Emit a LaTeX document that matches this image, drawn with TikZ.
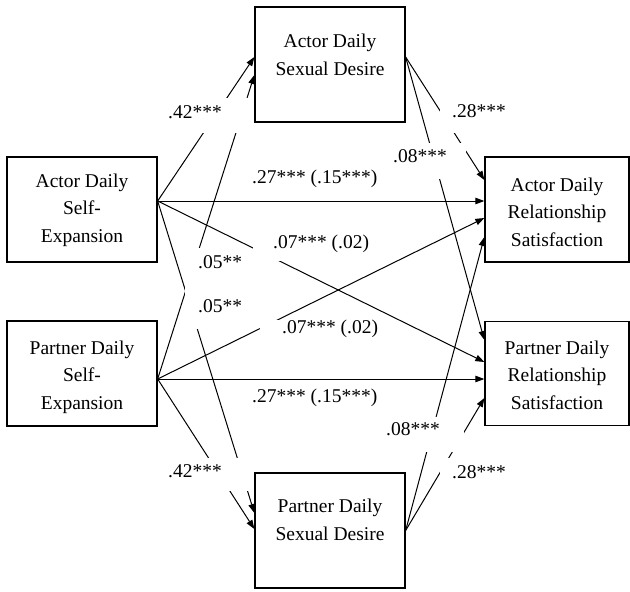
\documentclass[tikz,border=0pt]{standalone}
\usepackage{fontspec}
\setmainfont{Liberation Serif}
\usetikzlibrary{arrows.meta}
\begin{document}
\begin{tikzpicture}[x=1pt,y=-1pt,
  box/.style={draw, line width=1.3pt, inner sep=0pt, minimum width=150pt},
  boxtext/.style={align=center, inner sep=0pt, font=\fontsize{19.5}{27.5}\selectfont},
  path/.style={line width=1pt, -{Triangle[length=9pt,width=6.5pt]}},
  gap/.style={fill=white, draw=none},
  lbl/.style={anchor=base west, inner sep=0pt, font=\fontsize{19.5}{24}\selectfont}]
\useasboundingbox (0,0) rectangle (630,592);

% boxes
\node[box, minimum height=105pt] (ase) at (82,209.5) {};
\node[box, minimum height=105pt] (pse) at (82,373.5) {};
\node[box, minimum height=115pt] (asd) at (330,64.5) {};
\node[box, minimum height=115pt] (psd) at (330,530.5) {};
\node[box, minimum height=105pt, minimum width=144pt] (ars) at (557,209.5) {};
\node[box, minimum height=104pt, minimum width=144pt] (prs) at (557,373.5) {};

\node[boxtext] (aset) at (82,210) {Actor Daily\\Self-\\Expansion};
\node[boxtext] (pset) at (82,377) {Partner Daily\\Self-\\Expansion};
\node[boxtext] (asdt) at (330,55) {Actor Daily\\Sexual Desire};
\node[boxtext] (psdt) at (330,520) {Partner Daily\\Sexual Desire};
\node[boxtext] (arst) at (557,212) {Actor Daily\\Relationship\\Satisfaction};
\node[boxtext] (prst) at (557,375) {Partner Daily\\Relationship\\Satisfaction};

% connectors
\draw[path] ([yshift=8.5pt]ase.east) -- ([yshift=7.5pt]asd.west);
\draw[path] ([yshift=-5.5pt]pse.east) -- ([yshift=-10.5pt]asd.west);
\draw[path] ([yshift=8.5pt]ase.east) -- ([yshift=17.5pt]psd.west);
\draw[path] ([yshift=-5.5pt]pse.east) -- ([yshift=1.5pt]psd.west);
\draw[path] ([yshift=8.5pt]ase.east) -- ([yshift=8.5pt]ars.west);
\draw[path] ([yshift=8.5pt]ase.east) -- ([yshift=11.5pt]prs.west);
\draw[path] ([yshift=-5.5pt]pse.east) -- ([yshift=-8.5pt]ars.west);
\draw[path] ([yshift=-5.5pt]pse.east) -- ([yshift=-5.5pt]prs.west);
\draw[path] ([yshift=7.5pt]asd.east) -- ([yshift=29.5pt]ars.west);
\draw[path] ([yshift=7.5pt]asd.east) -- ([yshift=33.5pt]prs.west);
\draw[path] (psd.east) -- ([yshift=-27.5pt]ars.west);
\draw[path] (psd.east) -- ([yshift=-24.5pt]prs.west);

% white label backgrounds
\fill[gap] (160,98) rectangle (250,133);
\fill[gap] (440,98) rectangle (515,133);
\fill[gap] (383,143) rectangle (466,179);
\fill[gap] (253,225) rectangle (385,261);
\fill[gap] (185.4,248) rectangle (250,290);
\fill[gap] (185.4,290) rectangle (250,329);
\fill[gap] (260,320) rectangle (392,356);
\fill[gap] (380,417) rectangle (464,452);
\fill[gap] (160,458) rectangle (250,491);
\fill[gap] (440,458) rectangle (515,493);

% labels
\node[lbl] (l1) at (168,118) {.42***};
\node[lbl] (l2) at (452,117) {.28***};
\node[lbl] (l3) at (393,162) {.08***};
\node[lbl] (l4) at (252,183) {.27*** (.15***)};
\node[lbl] (l5) at (273,248) {.07*** (.02)};
\node[lbl] (l6) at (198,268) {.05**};
\node[lbl] (l7) at (198,312) {.05**};
\node[lbl] (l8) at (282,333) {.07*** (.02)};
\node[lbl] (l9) at (252,402) {.27*** (.15***)};
\node[lbl] (l10) at (386,435) {.08***};
\node[lbl] (l11) at (168,477) {.42***};
\node[lbl] (l12) at (452,478) {.28***};
\end{tikzpicture}
\end{document}
